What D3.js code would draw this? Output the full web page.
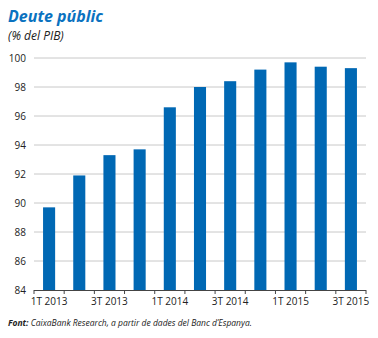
<!DOCTYPE html>
<html><head><meta charset="utf-8">
<script src="https://cdn.jsdelivr.net/npm/d3@7"></script>
<style>
body{margin:0;background:#fff;}
text{font-family:"Open Sans",sans-serif;}
</style></head>
<body><svg id="c" width="378" height="338"></svg>
<script>
const categories = ["1T 2013","2T 2013","3T 2013","4T 2013","1T 2014","2T 2014","3T 2014","4T 2014","1T 2015","2T 2015","3T 2015"];
const values = [89.7, 91.9, 93.3, 93.7, 96.6, 98.0, 98.4, 99.2, 99.7, 99.4, 99.3];
const yTicks = [84, 86, 88, 90, 92, 94, 96, 98, 100];
const xLabels = ["1T 2013","3T 2013","1T 2014","3T 2014","1T 2015","3T 2015"];

const svg = d3.select("#c");
const m = {l:34, r:366, t:58, b:290};
const x = d3.scaleBand().domain(categories).range([m.l, m.r]).paddingInner(0.6).paddingOuter(0.3);
const y = d3.scaleLinear().domain([84, 100]).range([m.b, m.t]);

svg.append("text").attr("x", 8).attr("y", 22).attr("fill", "#0a72c0")
  .attr("font-size", 16).attr("font-weight", "bold").attr("font-style", "italic").text("Deute públic");
svg.append("text").attr("x", 8).attr("y", 40).attr("fill", "#222")
  .attr("font-size", 12).attr("font-style", "italic").text("(% del PIB)");

// gridlines
svg.append("g").selectAll("line").data(yTicks.filter(d => d > 84)).join("line")
  .attr("x1", m.l).attr("x2", m.r).attr("y1", d => y(d)).attr("y2", d => y(d))
  .attr("stroke", "#c8c8c8").attr("stroke-width", 1);

// y labels
const ya = d3.axisLeft(y).tickValues(yTicks).tickSize(0).tickPadding(8);
const yg = svg.append("g").attr("transform", `translate(${m.l},0)`).call(ya);
yg.select(".domain").remove();
yg.selectAll("text").attr("font-size", 10).attr("fill", "#222").style("font-family", "'Open Sans',sans-serif");

// bars
svg.append("g").selectAll("rect").data(values).join("rect")
  .attr("x", (d, i) => x(categories[i])).attr("width", x.bandwidth())
  .attr("y", d => y(d)).attr("height", d => y(84) - y(d)).attr("fill", "#0068b4");

// x axis line and ticks at band boundaries
const bounds = d3.range(categories.length + 1).map(i => m.l + i * (m.r - m.l) / categories.length);
svg.append("line").attr("x1", m.l).attr("x2", m.r).attr("y1", m.b + 0.5).attr("y2", m.b + 0.5).attr("stroke", "#444");
svg.append("g").selectAll("line").data(bounds).join("line")
  .attr("x1", d => d).attr("x2", d => d).attr("y1", m.b).attr("y2", m.b + 4).attr("stroke", "#444");

// x labels
svg.append("g").selectAll("text").data(xLabels).join("text")
  .attr("x", d => x(d) + x.bandwidth() / 2).attr("y", m.b + 15).attr("text-anchor", "middle")
  .attr("font-size", 10).attr("fill", "#222").text(d => d);

// source
const f = svg.append("text").attr("x", 8).attr("y", 326).attr("font-size", 8.5).attr("font-style", "italic").attr("fill", "#222");
f.append("tspan").attr("font-weight", "bold").text("Font:");
f.append("tspan").text(" CaixaBank Research, a partir de dades del Banc d’Espanya.");
</script></body></html>
